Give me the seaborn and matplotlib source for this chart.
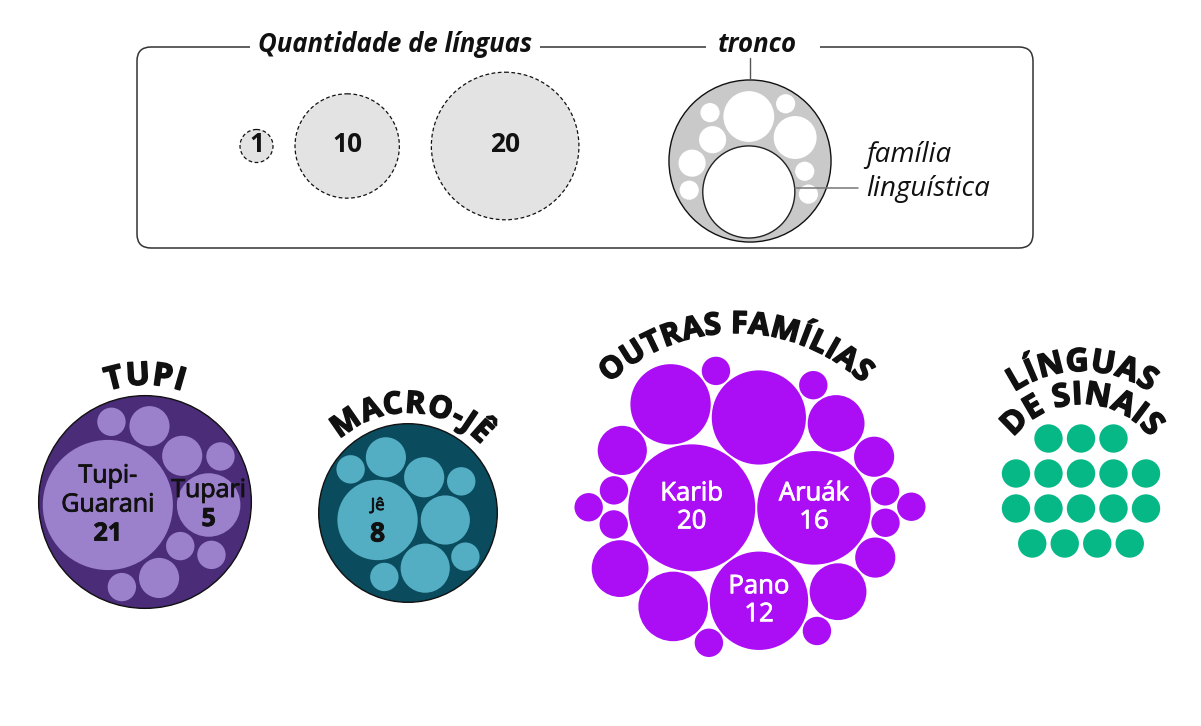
import math
from itertools import combinations
import numpy as np
import pandas as pd
import seaborn as sns
import matplotlib.pyplot as plt
import matplotlib.patheffects as pe
from matplotlib.patches import Circle, FancyBboxPatch
from matplotlib.font_manager import FontProperties
from matplotlib.textpath import TextToPath

sns.set_theme(style='white')
plt.rcParams['font.family'] = ['Open Sans', 'DejaVu Sans']

W, H, DPI = 1201, 726, 100

# Data: number of languages per family, grouped by trunk
tupi_names = ['Tupi-\nGuarani', 'Tupari', '', '', '', '', '', '', '', '']
tupi_counts = [21, 5, 1, 2, 2, 2, 1, 1, 1, 1]

macro_names = ['Jê', '', '', '', '', '', '', '', '']
macro_counts = [8, 3, 3, 2, 2, 1, 1, 1, 1]

outras_names = ['Karib', 'Aruák', 'Pano'] + [''] * 19
outras_counts = [20, 16, 12, 11, 8, 6, 4, 4, 4, 3, 2, 2,
                 1, 1, 1, 1, 1, 1, 1, 1, 1, 1]

sinais_counts = [1] * 17
sinais_rows = [3, 5, 5, 4]

titles = ['TUPI', 'MACRO-JÊ', 'OUTRAS FAMÍLIAS', 'LÍNGUAS', 'DE SINAIS']

# Legend
legend_counts = [1, 10, 20]
tronco_counts = [23, 7, 5, 2, 2, 1, 1, 1, 1, 1]

colors = {'tupi_out': '#4a2c79', 'tupi': '#9b80cc',
          'macro_out': '#0b4b5e', 'macro': '#53aec3',
          'outras': '#ab0ef4', 'sinais': '#07b887',
          'legend': '#e3e3e3', 'tronco': '#c9c9c9', 'white': '#ffffff'}

K = 14.2          # px per sqrt(language count)
K_LEGEND = 16.5
K_ICON = 9.6


# ---- circle packing (front-chain, as in d3.packSiblings) ----
def place(b, a, c):
    dx, dy = b[0] - a[0], b[1] - a[1]
    d2 = dx * dx + dy * dy
    if d2:
        a2 = (a[2] + c[2]) ** 2
        b2 = (b[2] + c[2]) ** 2
        if a2 > b2:
            x = (d2 + b2 - a2) / (2 * d2)
            y = math.sqrt(max(0, b2 / d2 - x * x))
            c[0] = b[0] - x * dx - y * dy
            c[1] = b[1] - x * dy + y * dx
        else:
            x = (d2 + a2 - b2) / (2 * d2)
            y = math.sqrt(max(0, a2 / d2 - x * x))
            c[0] = a[0] + x * dx - y * dy
            c[1] = a[1] + x * dy + y * dx
    else:
        c[0] = a[0] + c[2]
        c[1] = a[1]


def intersects(a, b):
    dr = a[2] + b[2] - 1e-6
    dx, dy = b[0] - a[0], b[1] - a[1]
    return dr > 0 and dr * dr > dx * dx + dy * dy


class Node:
    def __init__(self, c):
        self.c = c
        self.next = None
        self.prev = None


def score(node):
    a, b = node.c, node.next.c
    ab = a[2] + b[2]
    dx = (a[0] * b[2] + b[0] * a[2]) / ab
    dy = (a[1] * b[2] + b[1] * a[2]) / ab
    return dx * dx + dy * dy


def pack_siblings(circles):
    n = len(circles)
    a = circles[0]
    a[0] = a[1] = 0.0
    if n == 1:
        return
    b = circles[1]
    a[0] = -b[2]
    b[0], b[1] = a[2], 0.0
    if n == 2:
        return
    place(b, a, circles[2])
    a, b, c = Node(a), Node(b), Node(circles[2])
    a.next = c.prev = b
    b.next = a.prev = c
    c.next = b.prev = a
    i = 3
    while i < n:
        place(a.c, b.c, circles[i])
        c = Node(circles[i])
        j, k, sj, sk = b.next, a.prev, b.c[2], a.c[2]
        hit = False
        while True:
            if sj <= sk:
                if intersects(j.c, c.c):
                    b = j
                    a.next, b.prev = b, a
                    hit = True
                    break
                sj += j.c[2]
                j = j.next
            else:
                if intersects(k.c, c.c):
                    a = k
                    a.next, b.prev = b, a
                    hit = True
                    break
                sk += k.c[2]
                k = k.prev
            if j is k.next:
                break
        if hit:
            continue
        c.prev, c.next = a, b
        a.next = c
        b.prev = c
        b = c
        aa = score(a)
        c = c.next
        while c is not b:
            ca = score(c)
            if ca < aa:
                a, aa = c, ca
            c = c.next
        b = a.next
        i += 1


def basis2(a, b):
    x1, y1, r1 = a
    x2, y2, r2 = b
    x21, y21, r21 = x2 - x1, y2 - y1, r2 - r1
    l = math.hypot(x21, y21)
    return ((x1 + x2 + x21 / l * r21) / 2, (y1 + y2 + y21 / l * r21) / 2, (l + r1 + r2) / 2)


def basis3(a, b, c):
    x1, y1, r1 = a
    x2, y2, r2 = b
    x3, y3, r3 = c
    a2, a3, b2, b3 = x1 - x2, x1 - x3, y1 - y2, y1 - y3
    c2, c3 = r2 - r1, r3 - r1
    d1 = x1 * x1 + y1 * y1 - r1 * r1
    d2 = d1 - x2 * x2 - y2 * y2 + r2 * r2
    d3 = d1 - x3 * x3 - y3 * y3 + r3 * r3
    ab = a3 * b2 - a2 * b3
    xa = (b2 * d3 - b3 * d2) / (ab * 2) - x1
    xb = (b3 * c2 - b2 * c3) / ab
    ya = (a3 * d2 - a2 * d3) / (ab * 2) - y1
    yb = (a2 * c3 - a3 * c2) / ab
    A = xb * xb + yb * yb - 1
    B = 2 * (r1 + xa * xb + ya * yb)
    C = xa * xa + ya * ya - r1 * r1
    r = -((B + math.sqrt(B * B - 4 * A * C)) / (2 * A) if abs(A) > 1e-6 else C / B)
    return (x1 + xa + xb * r, y1 + ya + yb * r, r)


def enclose(circles):
    cs = [tuple(c) for c in circles]
    cands = list(cs)
    for p, q in combinations(cs, 2):
        cands.append(basis2(p, q))
    for p, q, s in combinations(cs, 3):
        try:
            e = basis3(p, q, s)
        except (ZeroDivisionError, ValueError):
            continue
        if e[2] > 0:
            cands.append(e)
    cands.sort(key=lambda e: e[2])
    for e in cands:
        if all(math.hypot(x - e[0], y - e[1]) + r <= e[2] + 1e-6 for x, y, r in cs):
            return e
    return cands[-1]


def pack_group(counts, k, pad, center, rotate=False):
    circles = [[0.0, 0.0, k * math.sqrt(v) + pad] for v in counts]
    pack_siblings(circles)
    ex, ey, er = enclose(circles)
    out = []
    for x, y, r in circles:
        x, y = x - ex, y - ey
        if rotate:
            x, y = y, -x
        out.append((center[0] + x, center[1] + y, r - pad))
    return out, er + pad


# ---- text helpers ----
ttp = TextToPath()


def px_width(s, fp):
    return ttp.get_text_width_height_descent(s, fp, ismath=False)[0] * DPI / 72


def arc_text(ax, text, center, radius, size, track=1.0, angle=0.0):
    fp = FontProperties(family='Open Sans', weight='bold', size=size)
    prefix = [px_width(text[:i + 1], fp) for i in range(len(text))]
    total = prefix[-1] + track * (len(text) - 1)
    for i, ch in enumerate(text):
        if ch == ' ':
            continue
        s = prefix[i] - px_width(ch, fp) / 2 + track * i - total / 2
        t = s / radius + math.radians(angle)
        ax.text(center[0] + radius * math.sin(t), center[1] - radius * math.cos(t), ch,
                fontproperties=fp, color='#111111', ha='center', va='baseline',
                rotation=-math.degrees(t), rotation_mode='anchor', zorder=5,
                path_effects=[pe.withStroke(linewidth=1.1, foreground='#111111')])


def circle_labels(ax, circles, names, counts, color, name_size, count_size, line_h,
                  count_weight='bold'):
    for (x, y, r), name, n in zip(circles, names, counts):
        if not name:
            continue
        lines = name.split('\n') + [str(n)]
        for i, line in enumerate(lines):
            last = i == len(lines) - 1
            ax.text(x, y + (i - (len(lines) - 1) / 2) * line_h, line, color=color,
                    ha='center', va='center', zorder=5,
                    fontsize=count_size if last else name_size,
                    fontweight=count_weight if last else 'medium',
                    path_effects=[pe.withStroke(linewidth=0.6, foreground=color)])


fig = plt.figure(figsize=(W / DPI, H / DPI), dpi=DPI)
ax = fig.add_axes([0, 0, 1, 1])

rows = []

# Tupi
tupi_center = (145, 502)
tupi_c, tupi_r = pack_group(tupi_counts, K, 2.0, tupi_center)
ax.add_patch(Circle(tupi_center, tupi_r, fc=colors['tupi_out'], ec='#111111', lw=1, zorder=1))
rows += [(x, y, r, 'tupi') for x, y, r in tupi_c]

# Macro-Jê
macro_center = (408, 513)
macro_c, macro_r = pack_group(macro_counts, K, 1.5, macro_center)
ax.add_patch(Circle(macro_center, macro_r, fc=colors['macro_out'], ec='#111111', lw=1, zorder=1))
rows += [(x, y, r, 'macro') for x, y, r in macro_c]

# Outras famílias
outras_c, outras_r = pack_group(outras_counts, K, 1.0, (750, 507))
rows += [(x, y, r, 'outras') for x, y, r in outras_c]

# Línguas de sinais: grid of single-language circles
sin_center, dx, dy = (1081, 491), 32.5, 35.0
idx = 0
for ri, n in enumerate(sinais_rows):
    for ci in range(n):
        x = sin_center[0] + (ci - (n - 1) / 2) * dx
        y = sin_center[1] + (ri - (len(sinais_rows) - 1) / 2) * dy
        rows.append((x, y, K * math.sqrt(sinais_counts[idx]), 'sinais'))
        idx += 1

# Legend icon (tronco / família)
icon_center = (750, 161)
icon_c, icon_r = pack_group(tronco_counts, K_ICON, 2.0, icon_center, rotate=True)
ax.add_patch(Circle(icon_center, icon_r, fc=colors['tronco'], ec='#111111', lw=1, zorder=1))
fam = icon_c[0]
ax.add_patch(Circle(fam[:2], fam[2], fc='white', ec='#222222', lw=1, zorder=3))
rows += [(x, y, r, 'white') for x, y, r in icon_c[1:]]

df = pd.DataFrame(rows, columns=['x', 'y', 'r', 'grp'])
sns.scatterplot(data=df, x='x', y='y', hue='grp', palette=colors,
                s=(2 * df['r'] * 72 / DPI) ** 2, linewidth=0, legend=False,
                ax=ax, zorder=2)
ax.set_xlim(0, W)
ax.set_ylim(H, 0)
ax.axis('off')

circle_labels(ax, tupi_c, tupi_names, tupi_counts, '#111111', 18, 18, 29)
circle_labels(ax, macro_c, macro_names, macro_counts, '#111111', 12, 19, 28)
circle_labels(ax, outras_c, outras_names, outras_counts, 'white', 18.5, 18.5, 28,
              count_weight='medium')

arc_text(ax, titles[0], tupi_center, tupi_r + 11, 23)
arc_text(ax, titles[1], macro_center, macro_r + 11, 22, angle=2)
arc_text(ax, titles[2], (736, 518), 185, 22, track=0.5)
arc_text(ax, titles[3], (1082, 491), 120, 23, track=0.5)
arc_text(ax, titles[4], (1082, 491), 87, 23, track=0.5)

# Legend box with its two headers sitting on the top edge
ax.add_patch(FancyBboxPatch((137, 47), 896, 201, boxstyle='round,pad=0,rounding_size=14',
                            fc='none', ec='#333333', lw=1.1, zorder=1))
for x1, x2 in [(250, 540), (706, 820)]:
    ax.plot([x1, x2], [47, 47], color='white', lw=4, zorder=2, solid_capstyle='butt')
ax.text(395, 45, 'Quantidade de línguas', fontsize=18.5, fontweight='bold', style='italic',
        color='#111111', ha='center', va='center', zorder=4)
ax.text(757, 45, 'tronco', fontsize=18.5, fontweight='bold', style='italic',
        color='#111111', ha='center', va='center', zorder=4)
ax.plot([icon_center[0]] * 2, [58, icon_center[1] - icon_r], color='#555555', lw=1, zorder=3)

x0, ly = 240, 146
for n, gap in zip(legend_counts, [22, 32, 0]):
    r = K_LEGEND * math.sqrt(n)
    cx = x0 + r
    ax.add_patch(Circle((cx, ly), r, fc=colors['legend'], ec='#111111', lw=0.9,
                        ls=(0, (3, 2)), zorder=1))
    ax.text(cx, ly - 2, str(n), fontsize=19, fontweight='bold', color='#111111',
            ha='center', va='center', zorder=4)
    x0 = cx + r + gap

ax.plot([fam[0] + fam[2], 858], [fam[1] - 4, fam[1] - 4], color='#777777', lw=1.1, zorder=4)
ax.text(866, fam[1] - 37, 'família', fontsize=20, style='italic', color='#111111',
        ha='left', va='center', zorder=4)
ax.text(866, fam[1] - 3, 'linguística', fontsize=20, style='italic', color='#111111',
        ha='left', va='center', zorder=4)

fig.savefig('out.png', dpi=DPI)
